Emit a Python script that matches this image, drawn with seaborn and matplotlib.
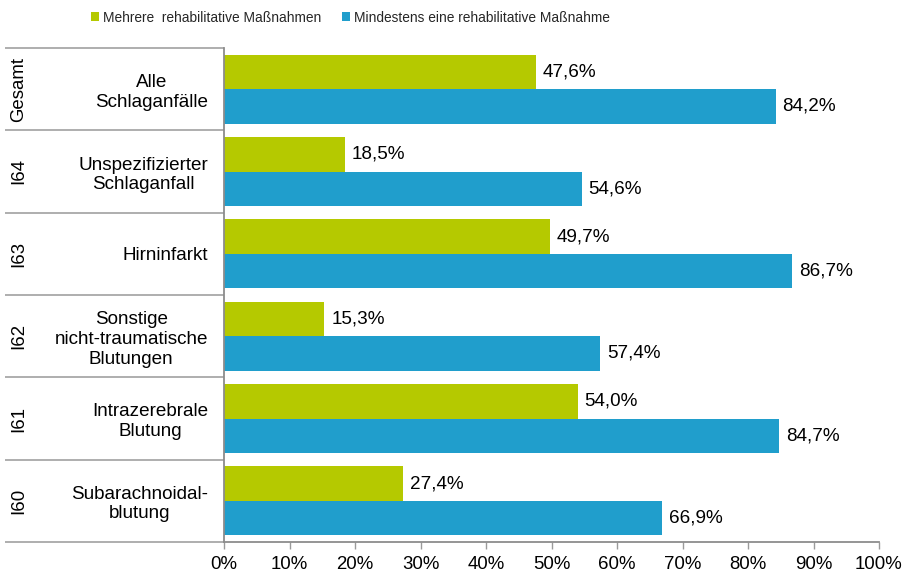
import matplotlib
matplotlib.use("Agg")
import matplotlib.pyplot as plt
import matplotlib.transforms as mtransforms
from matplotlib.ticker import FixedLocator
import seaborn as sns
import pandas as pd

# ICD codes shown in the left column, top to bottom
codes = ["Gesamt", "I64", "I63", "I62", "I61", "I60"]
# Diagnosis names shown next to the bars
categories = [
    "Alle\nSchlaganfälle",
    "Unspezifizierter\nSchlaganfall",
    "Hirninfarkt",
    "Sonstige\nnicht-traumatische\nBlutungen",
    "Intrazerebrale\nBlutung",
    "Subarachnoidal-\nblutung",
]
series = ["Mehrere  rehabilitative Maßnahmen", "Mindestens eine rehabilitative Maßnahme"]
mehrere = [47.6, 18.5, 49.7, 15.3, 54.0, 27.4]
mindestens = [84.2, 54.6, 86.7, 57.4, 84.7, 66.9]
xticks = list(range(0, 101, 10))
colors = ["#b5c900", "#209ecc"]

df = pd.DataFrame({
    "Kategorie": categories * 2,
    "Anteil": mehrere + mindestens,
    "Gruppe": [series[0]] * len(categories) + [series[1]] * len(categories),
})

sns.set_theme(style="white")
plt.rcParams["font.family"] = ["Liberation Sans", "DejaVu Sans"]

W, H = 910, 576
fig = plt.figure(figsize=(W / 100, H / 100), dpi=100)
ax = fig.add_axes([224 / W, 1 - 542 / H, 655 / W, 494 / H])

sns.barplot(
    data=df, y="Kategorie", x="Anteil", hue="Gruppe",
    order=categories, hue_order=series, palette=colors,
    width=0.84, orient="h", ax=ax, linewidth=0, saturation=1,
    errorbar=None,
)

# value labels at the bar ends
for container, vals in zip(ax.containers, [mehrere, mindestens]):
    ax.bar_label(container, labels=[f"{v:.1f}%".replace(".", ",") for v in vals],
                 padding=5, fontsize=13.6, color="black")

ax.set_xlim(0, 100)
ax.set_ylim(len(categories) - 0.5, -0.5)
ax.set_xticks(xticks)
ax.set_xticklabels([f"{t}%" for t in xticks])
ax.set_xlabel("")
ax.set_ylabel("")

for s in ["top", "right"]:
    ax.spines[s].set_visible(False)
for s in ["left", "bottom"]:
    ax.spines[s].set_color("#8c8c8c")
    ax.spines[s].set_linewidth(1.3)

ax.tick_params(axis="x", which="major", bottom=True, direction="out", length=5,
               width=1, color="#9a9a9a", labelsize=13.4, pad=5, labelcolor="black")
ax.tick_params(axis="y", which="major", left=True, length=0, pad=11.5,
               labelsize=13.6, labelcolor="black")

# long minor ticks separate the table rows on the left
ax.yaxis.set_minor_locator(FixedLocator([i - 0.5 for i in range(len(categories) + 1)]))
ax.tick_params(axis="y", which="minor", left=True, direction="out",
               length=219 * 0.72, width=1.3, color="#a8a8a8")

for lbl in ax.get_yticklabels():
    lbl.set_multialignment("center")
    lbl.set_linespacing(1.2)

trans = mtransforms.blended_transform_factory(fig.transFigure, ax.transData)
for i, code in enumerate(codes):
    ax.text(19 / W, i, code, transform=trans, rotation=90, ha="center",
            va="center", fontsize=13.4, color="black")

handles, labels = ax.get_legend_handles_labels()
if ax.get_legend() is not None:
    ax.get_legend().remove()
fig.legend(handles, labels, loc="upper left", bbox_to_anchor=(85 / W, 1 - 5 / H),
           ncol=2, frameon=False, handlelength=0.6, handleheight=0.6,
           handletextpad=0.3, columnspacing=1.5, borderaxespad=0,
           prop={"size": 9.9})

fig.savefig("out.png", dpi=100, facecolor="white")
